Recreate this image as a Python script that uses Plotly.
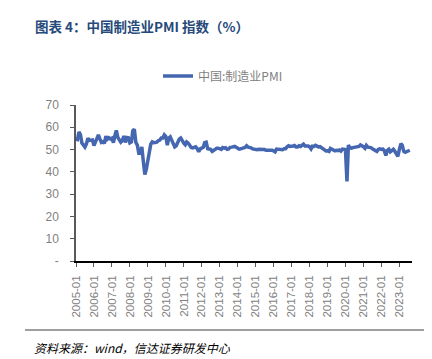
import plotly.graph_objects as go
import pandas as pd

pmi_values = [
    # 2005
    54.7, 54.5, 57.9, 56.7, 52.9, 51.7, 51.1, 52.6, 55.1, 54.1, 54.1, 54.3,
    # 2006
    51.8, 53.3, 55.1, 56.6, 54.8, 53.2, 53.5, 52.8, 56.0, 54.7, 55.3, 54.8,
    # 2007
    55.1, 53.1, 56.1, 58.6, 55.5, 54.5, 53.3, 54.0, 56.1, 53.2, 55.4, 55.3,
    # 2008
    53.0, 53.4, 58.4, 59.2, 53.3, 52.0, 48.4, 48.4, 51.2, 44.6, 38.8, 41.2,
    # 2009
    45.3, 49.0, 52.4, 53.5, 53.1, 53.2, 53.3, 54.0, 54.3, 55.2, 55.2, 56.6,
    # 2010
    55.8, 52.0, 55.1, 55.7, 53.9, 52.1, 51.2, 51.7, 53.8, 54.7, 55.2, 53.9,
    # 2011
    52.9, 52.2, 53.4, 52.9, 52.0, 50.9, 50.7, 50.9, 51.2, 50.4, 49.0, 50.3,
    # 2012
    50.5, 51.0, 53.1, 53.3, 50.4, 50.2, 50.1, 49.2, 49.8, 50.2, 50.6, 50.6,
    # 2013
    50.4, 50.1, 50.9, 50.6, 50.8, 50.1, 50.3, 51.0, 51.1, 51.4, 51.4, 51.0,
    # 2014
    50.5, 50.2, 50.3, 50.4, 50.8, 51.0, 51.7, 51.1, 51.1, 50.8, 50.3, 50.1,
    # 2015
    49.8, 49.9, 50.1, 50.1, 50.2, 50.2, 50.0, 49.7, 49.8, 49.8, 49.6, 49.7,
    # 2016
    49.4, 49.0, 50.2, 50.1, 50.1, 50.0, 49.9, 50.4, 50.4, 51.2, 51.7, 51.4,
    # 2017
    51.3, 51.6, 51.8, 51.2, 51.2, 51.7, 51.4, 51.7, 52.4, 51.6, 51.8, 51.6,
    # 2018
    51.3, 50.3, 51.5, 51.4, 51.9, 51.5, 51.2, 51.3, 50.8, 50.2, 50.0, 49.4,
    # 2019
    49.5, 49.2, 50.5, 50.1, 49.4, 49.4, 49.7, 49.5, 49.8, 49.3, 50.2, 50.2,
    # 2020
    50.0, 35.7, 52.0, 50.8, 50.6, 50.9, 51.1, 51.0, 51.5, 51.4, 52.1, 51.9,
    # 2021
    51.3, 50.6, 51.9, 51.1, 51.0, 50.9, 50.4, 50.1, 49.6, 49.2, 50.1, 50.3,
    # 2022
    50.1, 50.2, 49.5, 47.4, 49.6, 50.2, 49.0, 49.4, 50.1, 49.2, 48.0, 47.0,
    # 2023
    50.1, 52.6, 51.9, 49.2, 48.8, 49.0, 49.3, 49.7,
]
months = pd.date_range("2005-01-01", periods=len(pmi_values), freq="MS")
tick_dates = pd.date_range("2005-01-01", "2023-01-01", freq="12MS")
tick_labels = [d.strftime("%Y-%m") for d in tick_dates]
y_ticks = [0, 10, 20, 30, 40, 50, 60, 70]
y_labels = ["-", "10", "20", "30", "40", "50", "60", "70"]

series_name = "中国:制造业PMI"
title_text = "图表 4：中国制造业PMI 指数（%）"
source_text = "资料来源：wind，信达证券研发中心"

fig = go.Figure()
fig.add_trace(go.Scatter(
    x=months, y=pmi_values, mode="lines", name=series_name,
    line=dict(color="#4566B0", width=3.5),
))

gray = "#7F7F7F"
L, R, T, B = 68, 28, 97, 106
PW, PH = 432 - L - R, 359 - T - B
fig.update_layout(
    width=432, height=359,
    margin=dict(l=L, r=R, t=T, b=B),
    paper_bgcolor="white", plot_bgcolor="white",
    font=dict(family="Noto Sans CJK SC, Liberation Sans, sans-serif", size=11, color=gray),
    showlegend=True,
    legend=dict(orientation="h", x=(215 - L) / PW, xanchor="center",
                y=1 + (T - 68) / PH, yanchor="middle",
                font=dict(size=12, color=gray)),
    xaxis=dict(
        type="date",
        range=["2005-01-01", "2023-09-15"],
        tickmode="array", tickvals=tick_dates, ticktext=tick_labels,
        tickangle=-90, ticks="outside", ticklen=4, tickcolor="#595959",
        ticklabelstandoff=4,
        showline=True, linecolor="#000000", linewidth=1.5,
        showgrid=False, zeroline=False,
        tickfont=dict(family="Liberation Sans, Arial, sans-serif", size=11.5, color=gray),
    ),
    yaxis=dict(
        range=[0, 70],
        tickmode="array", tickvals=y_ticks, ticktext=y_labels,
        ticks="outside", ticklen=4, tickcolor="#595959",
        ticklabelstandoff=9,
        showline=True, linecolor="#595959", linewidth=1.5,
        showgrid=False, zeroline=False,
        tickfont=dict(family="Liberation Sans, Arial, sans-serif", size=12, color=gray),
    ),
)

fig.add_annotation(
    text="<b>" + title_text + "</b>", xref="paper", yref="paper",
    x=-(L - 25) / PW, y=1 + (T - 18) / PH,
    xanchor="left", yanchor="middle", showarrow=False,
    font=dict(family="Noto Sans CJK SC", size=13.5, color="#264A7A"),
)
fig.add_annotation(
    text="<i>" + source_text + "</i>", xref="paper", yref="paper",
    x=-(L - 24) / PW, y=-(339 - (359 - B)) / PH,
    xanchor="left", yanchor="middle", showarrow=False,
    font=dict(family="Noto Sans CJK SC", size=12, color="#000000"),
)
fig.add_shape(
    type="line", xref="paper", yref="paper",
    x0=-(L - 17) / PW, x1=(418 - L) / PW,
    y0=-(322 - (359 - B)) / PH, y1=-(322 - (359 - B)) / PH,
    line=dict(color="#7F7F7F", width=1.5),
)

fig.write_html("out.html")
